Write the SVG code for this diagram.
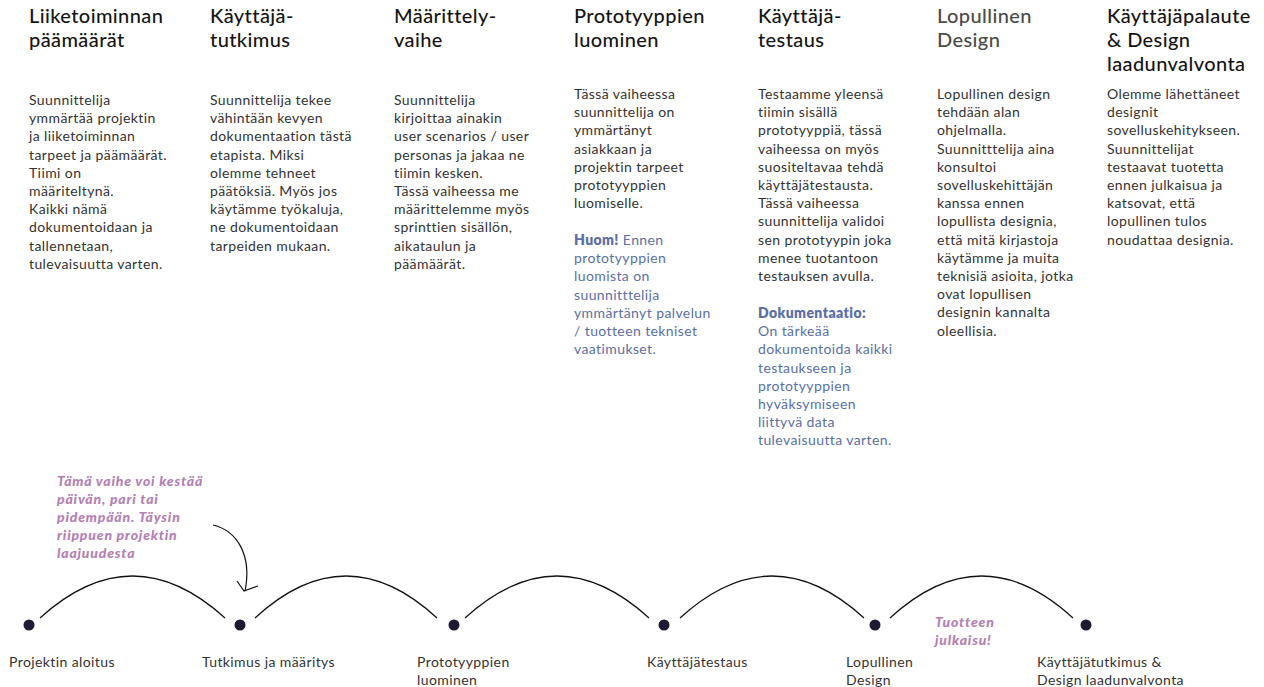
<svg xmlns="http://www.w3.org/2000/svg" width="1264" height="687" viewBox="0 0 1264 687">
<style>
.h{font-family:Lato,"Liberation Sans",sans-serif;font-size:20px;font-weight:500;letter-spacing:0.4px;fill:#151515}
.hg{fill:#4a4a4a}
.b{font-family:Lato,"Liberation Sans",sans-serif;font-size:14px;letter-spacing:0.4px;fill:#333}
.bl{fill:#5a6fa6}
.bb{font-weight:800}
.p{font-family:Lato,"Liberation Sans",sans-serif;font-size:14px;font-weight:900;font-style:italic;letter-spacing:0.8px;fill:#b37fb5}
.l{font-family:Lato,"Liberation Sans",sans-serif;font-size:14px;letter-spacing:0.4px;fill:#333}
.arc{fill:none;stroke:#111;stroke-width:1.2}
.dot{fill:#1e1a33}
</style>
<rect width="1264" height="687" fill="#fff"/>

<g id="col1">
<text class="h" x="29"><tspan x="29" y="23">Liiketoiminnan</tspan><tspan x="29" y="47">päämäärät</tspan></text>
<text class="b" x="29"><tspan x="29" y="105">Suunnittelija</tspan><tspan x="29" y="123.2">ymmärtää projektin</tspan><tspan x="29" y="141.4">ja liiketoiminnan</tspan><tspan x="29" y="159.6">tarpeet ja päämäärät.</tspan><tspan x="29" y="177.8">Tiimi on</tspan><tspan x="29" y="196">määriteltynä.</tspan><tspan x="29" y="214.2">Kaikki nämä</tspan><tspan x="29" y="232.4">dokumentoidaan ja</tspan><tspan x="29" y="250.6">tallennetaan,</tspan><tspan x="29" y="268.8">tulevaisuutta varten.</tspan></text>
</g>

<g id="col2">
<text class="h"><tspan x="210" y="23">Käyttäjä-</tspan><tspan x="210" y="47">tutkimus</tspan></text>
<text class="b"><tspan x="210" y="105">Suunnittelija tekee</tspan><tspan x="210" y="123.2">vähintään kevyen</tspan><tspan x="210" y="141.4">dokumentaation tästä</tspan><tspan x="210" y="159.6">etapista. Miksi</tspan><tspan x="210" y="177.8">olemme tehneet</tspan><tspan x="210" y="196">päätöksiä. Myös jos</tspan><tspan x="210" y="214.2">käytämme työkaluja,</tspan><tspan x="210" y="232.4">ne dokumentoidaan</tspan><tspan x="210" y="250.6">tarpeiden mukaan.</tspan></text>
</g>

<g id="col3">
<text class="h"><tspan x="394" y="23">Määrittely-</tspan><tspan x="394" y="47">vaihe</tspan></text>
<text class="b"><tspan x="394" y="105">Suunnittelija</tspan><tspan x="394" y="123.2">kirjoittaa ainakin</tspan><tspan x="394" y="141.4">user scenarios / user</tspan><tspan x="394" y="159.6">personas ja jakaa ne</tspan><tspan x="394" y="177.8">tiimin kesken.</tspan><tspan x="394" y="196">Tässä vaiheessa me</tspan><tspan x="394" y="214.2">määrittelemme myös</tspan><tspan x="394" y="232.4">sprinttien sisällön,</tspan><tspan x="394" y="250.6">aikataulun ja</tspan><tspan x="394" y="268.8">päämäärät.</tspan></text>
</g>

<g id="col4">
<text class="h"><tspan x="574" y="23">Prototyyppien</tspan><tspan x="574" y="47">luominen</tspan></text>
<text class="b"><tspan x="574" y="99">Tässä vaiheessa</tspan><tspan x="574" y="117.2">suunnittelija on</tspan><tspan x="574" y="135.4">ymmärtänyt</tspan><tspan x="574" y="153.6">asiakkaan ja</tspan><tspan x="574" y="171.8">projektin tarpeet</tspan><tspan x="574" y="190">prototyyppien</tspan><tspan x="574" y="208.2">luomiselle.</tspan></text>
<text class="b bl"><tspan x="574" y="245"><tspan class="bb">Huom!</tspan> Ennen</tspan><tspan x="574" y="263.2">prototyyppien</tspan><tspan x="574" y="281.4">luomista on</tspan><tspan x="574" y="299.6">suunnitttelija</tspan><tspan x="574" y="317.8">ymmärtänyt palvelun</tspan><tspan x="574" y="336">/ tuotteen tekniset</tspan><tspan x="574" y="354.2">vaatimukset.</tspan></text>
</g>

<g id="col5">
<text class="h"><tspan x="758" y="23">Käyttäjä-</tspan><tspan x="758" y="47">testaus</tspan></text>
<text class="b"><tspan x="758" y="99">Testaamme yleensä</tspan><tspan x="758" y="117.2">tiimin sisällä</tspan><tspan x="758" y="135.4">prototyyppiä, tässä</tspan><tspan x="758" y="153.6">vaiheessa on myös</tspan><tspan x="758" y="171.8">suositeltavaa tehdä</tspan><tspan x="758" y="190">käyttäjätestausta.</tspan><tspan x="758" y="208.2">Tässä vaiheessa</tspan><tspan x="758" y="226.4">suunnittelija validoi</tspan><tspan x="758" y="244.6">sen prototyypin joka</tspan><tspan x="758" y="262.8">menee tuotantoon</tspan><tspan x="758" y="281">testauksen avulla.</tspan></text>
<text class="b bl"><tspan x="758" y="318" class="bb">Dokumentaatio:</tspan><tspan x="758" y="336.2">On tärkeää</tspan><tspan x="758" y="354.4">dokumentoida kaikki</tspan><tspan x="758" y="372.6">testaukseen ja</tspan><tspan x="758" y="390.8">prototyyppien</tspan><tspan x="758" y="409">hyväksymiseen</tspan><tspan x="758" y="427.2">liittyvä data</tspan><tspan x="758" y="445.4">tulevaisuutta varten.</tspan></text>
</g>

<g id="col6">
<text class="h hg"><tspan x="937" y="23">Lopullinen</tspan><tspan x="937" y="47">Design</tspan></text>
<text class="b"><tspan x="937" y="99">Lopullinen design</tspan><tspan x="937" y="117.2">tehdään alan</tspan><tspan x="937" y="135.4">ohjelmalla.</tspan><tspan x="937" y="153.6">Suunnitttelija aina</tspan><tspan x="937" y="171.8">konsultoi</tspan><tspan x="937" y="190">sovelluskehittäjän</tspan><tspan x="937" y="208.2">kanssa ennen</tspan><tspan x="937" y="226.4">lopullista designia,</tspan><tspan x="937" y="244.6">että mitä kirjastoja</tspan><tspan x="937" y="262.8">käytämme ja muita</tspan><tspan x="937" y="281">teknisiä asioita, jotka</tspan><tspan x="937" y="299.2">ovat lopullisen</tspan><tspan x="937" y="317.4">designin kannalta</tspan><tspan x="937" y="335.6">oleellisia.</tspan></text>
</g>

<g id="col7">
<text class="h"><tspan x="1107" y="23">Käyttäjäpalaute</tspan><tspan x="1107" y="47">&amp; Design</tspan><tspan x="1107" y="71">laadunvalvonta</tspan></text>
<text class="b"><tspan x="1107" y="99">Olemme lähettäneet</tspan><tspan x="1107" y="117.2">designit</tspan><tspan x="1107" y="135.4">sovelluskehitykseen.</tspan><tspan x="1107" y="153.6">Suunnittelijat</tspan><tspan x="1107" y="171.8">testaavat tuotetta</tspan><tspan x="1107" y="190">ennen julkaisua ja</tspan><tspan x="1107" y="208.2">katsovat, että</tspan><tspan x="1107" y="226.4">lopullinen tulos</tspan><tspan x="1107" y="244.6">noudattaa designia.</tspan></text>
</g>

<g id="connectors">
<path class="arc" d="M40,618 Q132.5,534 225,618"/>
<path class="arc" d="M255,618 Q346,534 437,618"/>
<path class="arc" d="M465,618 Q557,534 649,618"/>
<path class="arc" d="M680,618 Q772,534 864,618"/>
<path class="arc" d="M890,618 Q981.5,534 1073,618"/>
<path class="arc" d="M213,525 C238,531 252,556 245,591"/>
<path class="arc" d="M237,581 L244,591 L258,586"/>
</g>

<g id="n1"><circle class="dot" cx="29" cy="625" r="5.5"/><text class="l" x="9" y="667">Projektin aloitus</text></g>
<g id="n2"><circle class="dot" cx="240" cy="625" r="5.5"/><text class="l" x="202" y="667">Tutkimus ja määritys</text></g>
<g id="n3"><circle class="dot" cx="454" cy="625" r="5.5"/><text class="l"><tspan x="417" y="667">Prototyyppien</tspan><tspan x="417" y="685">luominen</tspan></text></g>
<g id="n4"><circle class="dot" cx="664" cy="625" r="5.5"/><text class="l" x="647" y="667">Käyttäjätestaus</text></g>
<g id="n5"><circle class="dot" cx="875" cy="625" r="5.5"/><text class="l"><tspan x="846" y="667">Lopullinen</tspan><tspan x="846" y="685">Design</tspan></text></g>
<g id="n6"><circle class="dot" cx="1086" cy="625" r="5.5"/><text class="l"><tspan x="1037" y="667">Käyttäjätutkimus &amp;</tspan><tspan x="1037" y="685">Design laadunvalvonta</tspan></text></g>

<g id="note1"><text class="p"><tspan x="57" y="486">Tämä vaihe voi kestää</tspan><tspan x="57" y="504">päivän, pari tai</tspan><tspan x="57" y="522">pidempään. Täysin</tspan><tspan x="57" y="540">riippuen projektin</tspan><tspan x="57" y="558">laajuudesta</tspan></text></g>
<g id="note2"><text class="p"><tspan x="935" y="627">Tuotteen</tspan><tspan x="935" y="645">julkaisu!</tspan></text></g>
</svg>
